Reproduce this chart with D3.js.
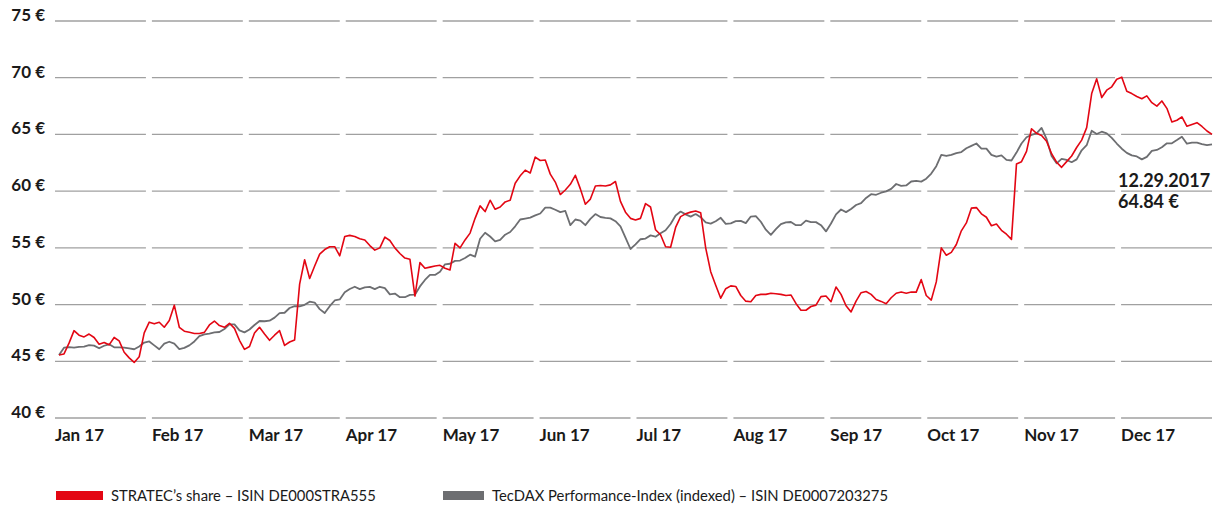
<!DOCTYPE html>
<html>
<head>
<meta charset="utf-8">
<script src="https://cdn.jsdelivr.net/npm/d3@7"></script>
<style>
  html, body { margin: 0; padding: 0; background: #ffffff; }
  svg { display: block; }
  text { font-family: "Lato", "Open Sans", sans-serif; }
</style>
</head>
<body>
<svg id="chart" width="1224" height="508"></svg>
<script>
const months = ["Jan 17","Feb 17","Mar 17","Apr 17","May 17","Jun 17","Jul 17","Aug 17","Sep 17","Oct 17","Nov 17","Dec 17"];
const yTicks = [40,45,50,55,60,65,70,75];
const currency = "€";

// STRATEC share price (EUR), trading-day samples across 2017
const stratec = [
45.55,45.65,46.6,47.7,47.3,47.15,47.4,47.1,46.5,46.65,
46.45,47.1,46.8,45.8,45.3,44.9,45.4,47.5,48.45,48.3,
48.44,48.0,48.6,49.95,48.0,47.65,47.56,47.45,47.45,47.55,
48.2,48.55,48.15,48.0,48.35,47.9,46.85,46.05,46.3,47.5,
48.0,47.4,46.85,47.3,47.7,46.4,46.7,46.88,51.8,53.95,
52.3,53.4,54.45,54.85,55.1,55.1,54.3,56.0,56.1,56.0,
55.8,55.7,55.2,54.8,55.0,55.95,55.65,55.0,54.5,54.1,
54.0,50.75,53.7,53.2,53.3,53.4,53.46,53.2,53.05,55.4,
55.0,55.7,56.3,57.6,58.7,58.2,59.2,58.4,58.6,59.05,
59.2,60.7,61.35,61.85,61.6,63.0,62.7,62.75,61.5,60.8,
59.7,60.1,60.6,61.4,60.2,58.85,59.3,60.46,60.5,60.45,
60.55,60.85,59.1,58.15,57.6,57.46,57.6,58.9,58.6,56.6,
56.15,55.1,55.05,56.8,57.75,58.0,58.15,58.25,58.1,55.0,
52.9,51.7,50.56,51.4,51.65,51.6,50.8,50.3,50.25,50.8,
50.9,50.9,51.0,50.95,50.9,50.8,50.85,50.1,49.5,49.5,
49.83,49.95,50.7,50.75,50.25,51.55,50.9,49.9,49.35,50.3,
51.05,51.15,50.9,50.45,50.28,50.07,50.6,51.0,51.1,51.0,
51.1,51.1,52.2,50.8,50.4,52.0,55.0,54.35,54.6,55.3,
56.5,57.2,58.5,58.55,58.0,57.7,56.95,57.1,56.55,56.2,
55.75,62.4,62.6,63.5,65.5,65.1,64.9,64.4,63.3,62.55,
62.1,62.6,63.1,63.85,64.5,65.6,68.6,69.9,68.25,68.9,
69.2,69.87,70.05,68.8,68.6,68.35,68.15,68.4,67.8,67.5,
67.95,67.3,66.1,66.25,66.55,65.72,65.88,66.04,65.7,65.3,
65.0
];

// TecDAX Performance-Index, indexed to STRATEC start value
const tecdax = [
45.55,46.2,46.24,46.2,46.27,46.3,46.43,46.38,46.15,46.37,
46.5,46.23,46.23,46.2,46.13,46.06,46.3,46.65,46.75,46.4,
46.06,46.55,46.72,46.55,46.08,46.18,46.4,46.75,47.22,47.38,
47.43,47.55,47.58,47.85,48.25,48.25,47.72,47.55,47.8,48.2,
48.55,48.53,48.58,48.85,49.25,49.28,49.7,49.86,49.85,49.98,
50.25,50.18,49.6,49.25,49.86,50.36,50.45,51.08,51.37,51.57,
51.36,51.52,51.56,51.36,51.57,51.45,50.9,50.97,50.65,50.65,
50.85,50.87,51.6,52.17,52.61,52.61,52.9,53.55,53.6,53.85,
53.88,54.1,54.4,54.23,55.8,56.33,56.0,55.58,55.7,56.16,
56.4,56.9,57.5,57.58,57.67,57.86,58.03,58.55,58.55,58.36,
58.15,58.25,57.0,57.5,57.4,57.0,57.55,57.98,57.72,57.65,
57.6,57.35,56.9,55.9,54.9,55.3,55.76,55.82,56.1,55.98,
56.28,56.55,57.1,57.85,58.2,57.95,57.75,57.98,57.7,57.25,
57.14,57.35,57.65,57.12,57.16,57.35,57.38,57.18,57.76,57.8,
57.3,56.6,56.15,56.65,57.09,57.25,57.28,57.0,57.0,57.4,
57.26,57.27,57.0,56.45,57.15,57.95,58.38,58.15,58.43,58.78,
58.95,59.4,59.73,59.68,59.86,59.98,60.2,60.63,60.46,60.5,
60.85,60.9,60.84,61.1,61.55,62.2,63.2,63.1,63.2,63.36,
63.45,63.78,63.99,64.2,63.75,63.75,63.2,63.05,63.15,62.75,
62.7,63.4,64.2,64.75,64.96,65.1,65.58,64.6,63.1,62.45,
62.85,62.75,62.55,62.8,63.6,64.05,65.33,65.04,65.24,65.1,
64.7,64.2,63.74,63.37,63.15,63.06,62.8,63.02,63.55,63.63,
63.87,64.22,64.22,64.5,64.8,64.18,64.28,64.28,64.15,64.05,
64.13
];

const seriesNames = ["STRATEC\u2019s share \u2013 ISIN DE000STRA555", "TecDAX Performance-Index (indexed) \u2013 ISIN DE0007203275"];
const seriesColors = ["#e30613", "#6d6e71"];
const endDateLabel = "12.29.2017";
const endValueLabel = "64.84 €";

const svg = d3.select("#chart");

const y = d3.scaleLinear().domain([40, 75]).range([418, 21]);
const xMonth = d3.scaleBand().domain(months).range([55, 1218]).paddingInner(0);
const gap = 6;
const x = d3.scaleLinear().domain([0, stratec.length - 1]).range([59, 1212]);

// Gridlines: one segment per month per tick
const grid = svg.append("g");
yTicks.forEach(v => {
  grid.selectAll(null)
    .data(months)
    .enter()
    .append("line")
    .attr("x1", m => xMonth(m))
    .attr("x2", m => xMonth(m) + xMonth.step() - gap)
    .attr("y1", y(v))
    .attr("y2", y(v))
    .attr("stroke", "#a0a0a0")
    .attr("stroke-width", 1.3);
});

// Y labels
svg.append("g").selectAll("text")
  .data(yTicks)
  .enter()
  .append("text")
  .attr("x", 45)
  .attr("y", d => y(d))
  .attr("text-anchor", "end")
  .attr("font-size", 17)
  .attr("font-weight", 700)
  .attr("fill", "#1a1a1a")
  .text(d => d + " " + currency);

// Month labels
svg.append("g").selectAll("text")
  .data(months)
  .enter()
  .append("text")
  .attr("x", m => xMonth(m))
  .attr("y", 441)
  .attr("font-size", 17)
  .attr("font-weight", 700)
  .attr("fill", "#1a1a1a")
  .text(m => m);

// Lines
const line = d3.line().x((d, i) => x(i)).y(d => y(d)).curve(d3.curveLinear);
svg.append("path")
  .datum(tecdax)
  .attr("d", line)
  .attr("fill", "none")
  .attr("stroke", seriesColors[1])
  .attr("stroke-width", 1.8)
  .attr("stroke-linejoin", "round");
svg.append("path")
  .datum(stratec)
  .attr("d", line)
  .attr("fill", "none")
  .attr("stroke", seriesColors[0])
  .attr("stroke-width", 1.6)
  .attr("stroke-linejoin", "round");

// End annotation
svg.append("text")
  .attr("x", 1118).attr("y", 187)
  .attr("font-size", 18).attr("font-weight", 700).attr("fill", "#1a1a1a")
  .text(endDateLabel);
svg.append("text")
  .attr("x", 1118).attr("y", 208)
  .attr("font-size", 18).attr("font-weight", 700).attr("fill", "#1a1a1a")
  .text(endValueLabel);

// Legend
const legendX = [56, 443];
const legendW = [47, 41];
const legendTextX = [111, 492];
const lg = svg.append("g");
seriesNames.forEach((name, i) => {
  lg.append("rect")
    .attr("x", legendX[i]).attr("y", 491)
    .attr("width", legendW[i]).attr("height", 9)
    .attr("fill", seriesColors[i]);
  lg.append("text")
    .attr("x", legendTextX[i]).attr("y", 501)
    .attr("font-size", 14.8)
    .attr("fill", "#1a1a1a")
    .text(name);
});
</script>
</body>
</html>
